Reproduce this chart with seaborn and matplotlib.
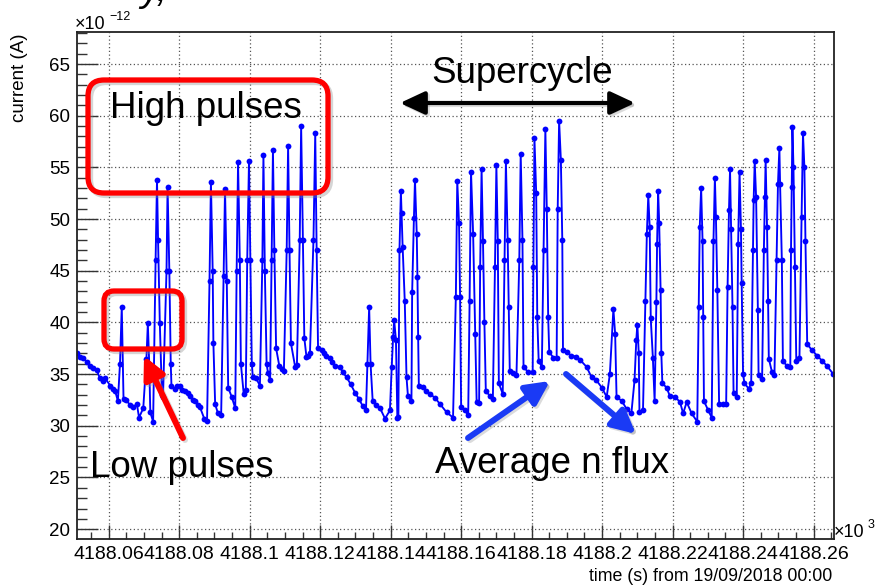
import matplotlib
matplotlib.use("Agg")
import matplotlib.pyplot as plt
from matplotlib.patches import FancyBboxPatch, FancyArrowPatch
from matplotlib.ticker import MultipleLocator
import seaborn as sns

# time offset (s) from 4188000 s, current in units of 1e-12 A
T0 = 4188000

# first (partial) supercycle
c1_t = [50.9, 51.8, 52.7, 53.7, 54.7, 55.5, 56.6, 57.5, 58.4, 59.0, 60.4, 61.2, 61.8, 62.6,
        63.2, 63.7, 64.2, 64.9, 66.1, 66.9, 68.0, 68.6, 69.8, 70.7, 71.1, 71.5, 71.8, 72.6,
        73.3, 73.7, 74.0, 74.5, 75.1, 75.4, 76.4, 76.7, 77.2, 77.6, 77.8, 78.8, 79.5, 80.2,
        80.9, 81.6, 82.4, 83.1, 83.8, 84.5, 85.2, 85.9, 87.1, 87.9, 88.6, 89.0, 89.5, 89.7,
        90.2, 91.0, 91.9, 92.6, 93.0, 93.5, 93.9, 94.9, 95.9, 96.3, 96.7, 97.2, 97.5, 98.3,
        98.9, 99.3, 99.8, 100.2, 100.6, 100.9, 101.8, 102.9, 103.6, 103.9, 104.3, 104.8,
        105.2, 105.8, 106.2, 106.6, 107.0, 107.5, 108.4, 109.1, 109.7, 110.5, 110.9, 111.3,
        111.7, 112.9, 113.4, 114.2, 114.6, 115.1, 115.5, 116.1, 116.6, 117.1, 118.1, 118.6,
        119.0, 119.4]
c1_i = [37.0, 36.7, 36.6, 36.2, 35.8, 35.6, 35.4, 34.6, 34.3, 34.6, 33.9, 33.6, 33.4, 32.4,
        36.0, 41.5, 32.6, 32.5, 32.0, 31.8, 32.1, 30.8, 31.7, 36.5, 39.9, 36.0, 31.3, 30.4,
        46.0, 53.8, 48.0, 39.9, 33.0, 32.8, 45.0, 53.1, 45.0, 36.0, 33.9, 33.6, 33.9, 33.9,
        33.5, 33.4, 33.2, 32.9, 32.5, 32.4, 32.0, 31.8, 30.7, 30.5, 44.0, 53.6, 45.0, 38.0,
        32.1, 31.2, 31.0, 44.5, 52.9, 44.0, 33.7, 32.8, 31.7, 45.0, 55.5, 46.0, 36.0, 33.1,
        33.5, 46.0, 55.6, 46.0, 36.0, 34.7, 34.6, 33.9, 46.0, 56.2, 45.0, 36.0,
        35.1, 34.4, 46.0, 56.7, 47.0, 37.5, 35.8, 35.5, 35.3, 47.0, 57.1, 47.0,
        38.0, 35.7, 35.9, 48.0, 59.0, 48.0, 38.5, 36.7, 36.8, 37.0, 48.0, 58.3,
        47.0, 37.5]

# second supercycle
c2_t = [120.4, 121.1, 121.6, 122.7, 123.4, 124.2, 125.6, 126.4, 127.5, 128.7, 129.9, 131.0,
        132.1, 133.0, 133.4, 133.9, 134.3, 134.9, 135.9, 137.0, 138.4, 139.8, 140.3, 140.7,
        141.0, 141.5, 141.9, 142.2, 142.5, 142.9, 143.1, 143.4, 144.0, 144.5, 144.9, 145.9,
        146.1, 146.6, 146.9, 147.4, 147.6, 147.8, 148.0, 149.1, 150.1, 151.1, 152.6, 154.0,
        155.9, 157.7, 158.5, 158.9, 159.4, 159.7, 160.0, 161.1, 162.0, 162.4, 162.8, 163.4,
        164.0, 164.4, 165.1, 165.4, 165.8, 166.2, 166.6, 167.0, 168.1, 169.0, 169.6, 170.0,
        170.4, 170.7, 171.8, 172.3, 172.7, 173.2, 173.5, 173.8, 174.7, 175.7, 176.5, 176.9,
        177.4, 177.7, 179.0, 180.3, 180.5, 180.8, 181.3, 181.6, 182.0, 182.9, 183.4, 183.9,
        184.3, 184.7, 185.0, 186.2, 187.1, 187.4, 187.8, 188.3, 188.7, 188.9, 189.9, 191.3,
        192.7, 193.7, 195.6, 197.0, 198.4, 199.9, 201.3, 202.2, 203.2, 203.7, 204.1, 205.6,
        207.0, 208.3]
c2_i = [37.3, 37.0, 36.8, 36.6, 36.2, 35.8, 35.7, 35.2, 34.7, 34.0, 33.2, 32.6,
        31.9, 31.5, 36.0, 41.5, 36.0, 32.4, 32.0, 31.7, 30.7, 31.5, 35.7, 38.6,
        40.2, 38.3, 30.8, 30.9, 47.0, 52.7, 50.6, 47.3, 42.1, 34.7, 32.9, 32.4,
        42.9, 50.1, 53.8, 48.6, 44.4, 38.6, 33.9, 33.8, 33.4, 33.1, 32.7, 32.1,
        31.3, 30.8, 42.5, 53.7, 49.6, 42.5, 31.8, 31.5, 31.0, 42.1, 54.6, 48.6,
        38.9, 32.3, 32.2, 45.4, 54.8, 47.9, 40.0, 33.4, 32.9, 32.6, 45.4, 55.2,
        47.9, 34.1, 33.1, 46.0, 55.6, 48.0, 41.5, 35.3, 35.1, 34.9, 46.0, 56.3,
        48.0, 35.7, 35.2, 35.2, 45.4, 57.8, 52.5, 40.5, 36.3, 35.7, 47.0, 58.7,
        51.0, 40.5, 37.1, 36.6, 36.6, 51.0, 59.5, 55.7, 48.0, 37.3, 37.1, 36.8,
        36.7, 36.4, 35.7, 34.7, 34.4, 33.7, 32.8, 35.0, 41.3, 38.9, 32.8, 32.4,
        31.6, 31.2]

# third supercycle
c3_t = [209.2, 209.7, 210.0, 210.4, 210.6, 211.6, 212.3, 212.7, 213.1, 213.5, 213.8, 214.4,
        214.9, 215.4, 215.6, 215.9, 216.2, 216.6, 216.8, 217.1, 218.3, 219.2, 220.7, 222.1,
        223.0, 224.0, 225.4, 227.0, 227.4, 227.7, 228.1, 228.5, 228.7, 228.9, 230.1, 231.1,
        231.6, 232.0, 232.3, 232.7, 233.2, 234.4, 235.2, 235.6, 236.0, 236.3, 236.6, 237.0,
        237.3, 238.2, 238.6, 239.0, 239.4, 239.6, 240.0, 240.4, 241.6, 242.3, 242.8, 243.0,
        243.3, 243.7, 244.2, 244.4, 245.4, 245.9, 246.2, 246.4, 246.8, 247.1, 247.3, 248.2,
        248.9, 249.5, 249.9, 250.3, 250.5, 251.0, 251.3, 252.4, 253.4, 253.6, 253.8, 254.0,
        254.3, 254.7, 255.1, 256.0, 256.6, 257.0, 257.4, 257.7, 258.2, 259.6, 261.0, 262.4,
        263.8, 265.6]
c3_i = [34.4, 38.3, 39.8, 37.0, 31.3, 31.5, 42.1, 48.6, 52.3, 49.2, 40.4, 36.6,
        32.4, 42.0, 47.6, 52.7, 49.6, 43.1, 37.0, 34.1, 33.7, 32.9, 32.8, 32.3,
        31.2, 32.3, 31.2, 30.4, 41.5, 49.2, 53.0, 47.9, 40.5, 32.4, 31.5, 30.8,
        47.9, 54.0, 50.2, 43.1, 32.1, 32.1, 32.1, 43.4, 50.9, 54.8, 49.0, 41.5,
        33.2, 32.8, 47.6, 54.6, 49.0, 43.8, 35.0, 34.1, 33.6, 34.1, 47.0, 51.8,
        55.6, 52.1, 41.2, 34.9, 34.5, 47.0, 52.1, 55.7, 49.2, 42.1, 36.5, 35.2,
        34.9, 46.0, 53.4, 56.9, 53.4, 46.0, 36.3, 35.8, 35.7, 47.0, 53.1, 58.9,
        55.0, 45.4, 36.3, 36.6, 50.2, 58.3, 55.0, 47.9, 37.9, 37.3, 36.8, 36.3,
        35.8, 35.0]

x_ticks = [4188.06, 4188.08, 4188.10, 4188.12, 4188.14, 4188.16, 4188.18, 4188.20,
           4188.22, 4188.24, 4188.26]
x_tick_labels = ["4188.06", "4188.08", "4188.1", "4188.12", "4188.14", "4188.16",
                 "4188.18", "4188.2", "4188.22", "4188.24", "4188.26"]
y_ticks = [20, 25, 30, 35, 40, 45, 50, 55, 60, 65]

t_all = c1_t + c2_t + c3_t
i_all = c1_i + c2_i + c3_i
t_ks = [(T0 + t) / 1000.0 for t in t_all]

sns.set_style("ticks")
plt.rcParams['font.family'] = ['Liberation Sans', 'DejaVu Sans']
plt.rcParams['text.color'] = 'black'
plt.rcParams['axes.labelcolor'] = 'black'

W, H = 877, 585
fig = plt.figure(figsize=(W / 100, H / 100), dpi=100)
ax = fig.add_axes([77 / W, 46 / H, 757 / W, 507 / H])

sns.lineplot(x=t_ks, y=i_all, ax=ax, color='#0000ff', linewidth=1.35, marker='o',
             markersize=4.2, markeredgewidth=0, estimator=None, sort=False)

ax.set_xlim(4188.0510, 4188.2658)
ax.set_ylim(19.05, 68.1)
ax.set_xticks(x_ticks)
ax.set_xticklabels(x_tick_labels)
ax.set_yticks(y_ticks)
ax.xaxis.set_minor_locator(MultipleLocator(0.005))
ax.yaxis.set_minor_locator(MultipleLocator(1))
ax.tick_params(axis='both', which='both', direction='in', colors='#333333', width=1.0,
               labelcolor='black')
ax.tick_params(axis='x', which='major', length=10, labelsize=14, pad=5)
ax.tick_params(axis='x', which='minor', length=5)
ax.tick_params(axis='y', which='major', length=15, labelsize=13.5, pad=5)
ax.tick_params(axis='y', which='minor', length=7.5)
ax.grid(True, which='major', linestyle=(0, (1, 2)), color='#555555', linewidth=0.9)
for s in ax.spines.values():
    s.set_color('#222222')
    s.set_linewidth(1.3)
ax.set_xlabel("")
ax.set_ylabel("")


def fx(x):
    return x / W


def fy(y):
    return 1 - y / H


def inch(x, y):
    return (x / 100, (H - y) / 100)


# axis titles and exponents (ROOT style)
fig.text(fx(20), fy(34), "current (A)", rotation=90, ha='center', va='top', fontsize=13.5)
fig.text(fx(832), fy(581), "time (s) from 19/09/2018 00:00", ha='right', va='baseline',
         fontsize=12.8)
fig.text(fx(75), fy(29), "\u00d710", ha='left', va='baseline', fontsize=13)
fig.text(fx(109), fy(20), "\u221212", ha='left', va='baseline', fontsize=9)
fig.text(fx(834), fy(537), "\u00d710", ha='left', va='baseline', fontsize=13)
fig.text(fx(868), fy(528), "3", ha='left', va='baseline', fontsize=9)
# fragment of the slide title, cut by the top edge
fig.text(fx(140), fy(1), "y,", ha='left', va='baseline', fontsize=28, style='italic')


def rbox(x0, y0, x1, y1, r):
    for dx, col, a in [(2.5, '#888888', 0.35), (0, '#ff0000', 1.0)]:
        p = FancyBboxPatch(inch(x0 + dx, y1 + dx), (x1 - x0) / 100, (y1 - y0) / 100,
                           boxstyle="round,pad=0,rounding_size=%f" % (r / 100),
                           transform=fig.dpi_scale_trans, fill=False, edgecolor=col,
                           linewidth=3.8, alpha=a)
        fig.add_artist(p)


def arrow(p0, p1, style, col, lw, ms):
    sh = FancyArrowPatch(inch(p0[0] + 2, p0[1] + 2), inch(p1[0] + 2, p1[1] + 2),
                         arrowstyle=style, mutation_scale=ms, color='#999999',
                         alpha=0.35, linewidth=lw, transform=fig.dpi_scale_trans,
                         shrinkA=0, shrinkB=0)
    fig.add_artist(sh)
    a = FancyArrowPatch(inch(*p0), inch(*p1), arrowstyle=style, mutation_scale=ms,
                        color=col, linewidth=lw, transform=fig.dpi_scale_trans,
                        shrinkA=0, shrinkB=0)
    fig.add_artist(a)


rbox(88, 80, 328, 193, 16)
rbox(104, 291, 182, 349, 10)

fig.text(fx(110), fy(118), "High pulses", ha='left', va='baseline', fontsize=26.5)
fig.text(fx(431), fy(83), "Supercycle", ha='left', va='baseline', fontsize=26.5)
fig.text(fx(90), fy(477), "Low pulses", ha='left', va='baseline', fontsize=26.5)
fig.text(fx(435), fy(473), "Average n flux", ha='left', va='baseline', fontsize=26.5)

arrow((183, 438), (144, 356), "-|>,head_length=1.3,head_width=0.65", '#ff0000', 4.3, 10)
arrow((400, 103), (635, 103), "<|-|>,head_length=1.5,head_width=0.7", 'black', 3.0, 10)
arrow((468, 438), (550, 381), "-|>,head_length=1.4,head_width=0.7", '#1a3af5', 4.3, 10)
arrow((566, 374), (636, 434), "-|>,head_length=1.4,head_width=0.7", '#1a3af5', 4.3, 10)

fig.savefig("out.png", dpi=100)
